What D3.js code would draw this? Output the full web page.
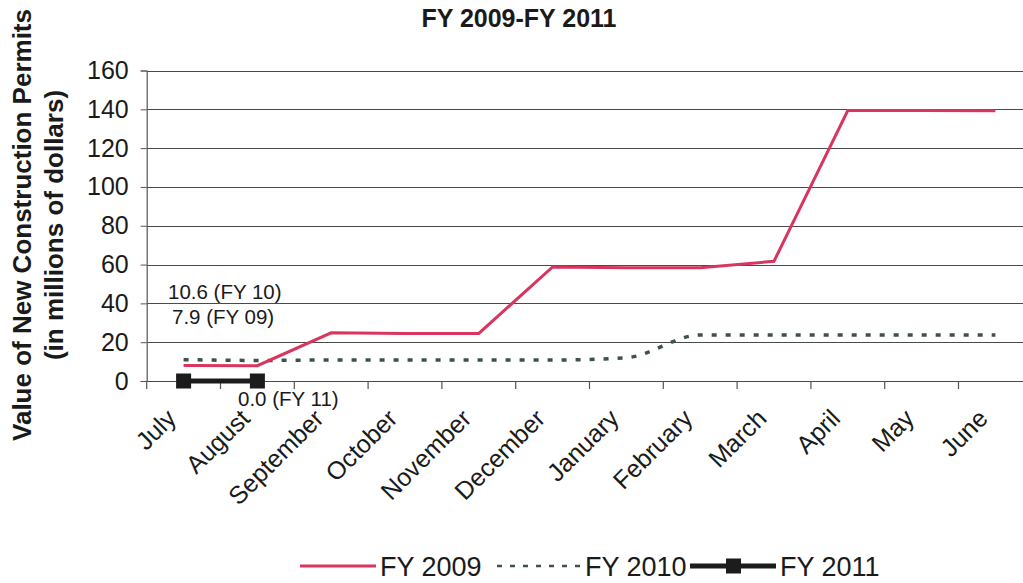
<!DOCTYPE html>
<html>
<head>
<meta charset="utf-8">
<script src="https://cdn.jsdelivr.net/npm/d3@7"></script>
<style>
  html, body { margin: 0; padding: 0; background: #fff; }
  svg { display: block; font-family: "Liberation Sans", Arial, sans-serif; }
</style>
</head>
<body>
<svg id="chart" width="1023" height="583"></svg>
<script>
// Fiscal-year months
const months = ["July", "August", "September", "October", "November", "December",
                "January", "February", "March", "April", "May", "June"];

// Cumulative value of new construction permits, millions of dollars
const fy2009 = [8.0, 7.9, 24.8, 24.5, 24.5, 58.8, 58.3, 58.3, 61.7, 139.4, 139.4, 139.2];
const fy2010 = [11.0, 10.6, 10.8, 10.8, 10.8, 10.8, 12.0, 23.7, 23.7, 23.7, 23.7, 23.7];
const fy2011 = [0.0, 0.0];

const yTicks = [0, 20, 40, 60, 80, 100, 120, 140, 160];

const seriesNames = ["FY 2009", "FY 2010", "FY 2011"];
const notes = [
  { text: "10.6 (FY 10)" },
  { text: "7.9 (FY 09)" },
  { text: "0.0 (FY 11)" }
];

const svg = d3.select("#chart");

const left = 146.7, bandW = 73.8;
const x = d3.scaleBand().domain(months).range([left, left + bandW * months.length]).padding(0);
const y = d3.scaleLinear().domain([0, 160]).range([381, 70.5]);
const cx = m => x(m) + x.bandwidth() / 2;

// horizontal gridlines
svg.append("g").selectAll("line").data(yTicks).join("line")
  .attr("x1", left).attr("x2", 1023)
  .attr("y1", d => Math.round(y(d)) + 0.5).attr("y2", d => Math.round(y(d)) + 0.5)
  .attr("stroke", "#4a4a4a").attr("stroke-width", 1.2);

// y axis
const yAxis = d3.axisLeft(y).tickValues(yTicks).tickSize(6).tickPadding(12);
const gy = svg.append("g").attr("transform", `translate(${left},0)`).call(yAxis);
gy.select(".domain").attr("stroke", "#555").attr("stroke-width", 1.2);
gy.selectAll(".tick line").attr("stroke", "#555");
gy.selectAll(".tick text").attr("font-size", 25).attr("fill", "#1a1a1a")
  .attr("font-family", "Liberation Sans, Arial, sans-serif");

// x axis: boundary ticks between months
const edges = months.map(m => x(m)).concat([x.range()[1]]);
svg.append("g").selectAll("line").data(edges).join("line")
  .attr("x1", d => d).attr("x2", d => d)
  .attr("y1", y(0)).attr("y2", y(0) + 8)
  .attr("stroke", "#555").attr("stroke-width", 1.2);

// month labels, rotated
svg.append("g").selectAll("text").data(months).join("text")
  .attr("transform", d => `translate(${cx(d) - 6},${y(0) + 39}) rotate(-45)`)
  .attr("text-anchor", "end")
  .attr("font-size", 25).attr("fill", "#1a1a1a")
  .text(d => d);

// series lines
const line = d3.line().x((d, i) => cx(months[i])).y(d => y(d));

svg.append("path").datum(fy2010)
  .attr("d", line.curve(d3.curveMonotoneX))
  .attr("fill", "none").attr("stroke", "#3e5247")
  .attr("stroke-width", 3.5).attr("stroke-dasharray", "5,9");

svg.append("path").datum(fy2009)
  .attr("d", line.curve(d3.curveLinear))
  .attr("fill", "none").attr("stroke", "#d8365f").attr("stroke-width", 3);

svg.append("path").datum(fy2011)
  .attr("d", line.curve(d3.curveLinear))
  .attr("fill", "none").attr("stroke", "#1c1c1c").attr("stroke-width", 5);

svg.append("g").selectAll("rect").data(fy2011).join("rect")
  .attr("x", (d, i) => cx(months[i]) - 7.5).attr("y", d => y(d) - 7.5)
  .attr("width", 15).attr("height", 15).attr("fill", "#1c1c1c");

// value notes
const noteG = svg.append("g").attr("font-size", 20.5).attr("fill", "#1a1a1a");
noteG.append("text").attr("x", 168).attr("y", 299).text(notes[0].text);
noteG.append("text").attr("x", 172).attr("y", 324).text(notes[1].text);
noteG.append("text").attr("x", 238).attr("y", 406).text(notes[2].text);

// title
svg.append("text").attr("x", 519).attr("y", 27).attr("text-anchor", "middle")
  .attr("font-size", 25).attr("font-weight", "bold").attr("fill", "#1a1a1a")
  .text("FY 2009-FY 2011");

// y axis title
const yt = svg.append("g").attr("font-weight", "bold").attr("font-size", 26)
  .attr("fill", "#1a1a1a").attr("text-anchor", "middle");
yt.append("text").attr("transform", "translate(31,225) rotate(-90)")
  .text("Value of New Construction Permits");
yt.append("text").attr("transform", "translate(63,225) rotate(-90)")
  .text("(in millions of dollars)");

// legend
const lg = svg.append("g");
const ly = 566;
lg.append("line").attr("x1", 300).attr("x2", 376).attr("y1", ly).attr("y2", ly)
  .attr("stroke", "#d8365f").attr("stroke-width", 3);
lg.append("line").attr("x1", 497).attr("x2", 580).attr("y1", ly).attr("y2", ly)
  .attr("stroke", "#3e5247").attr("stroke-width", 2.5).attr("stroke-dasharray", "5,8");
lg.append("line").attr("x1", 690).attr("x2", 776).attr("y1", ly).attr("y2", ly)
  .attr("stroke", "#1c1c1c").attr("stroke-width", 5);
lg.append("rect").attr("x", 726).attr("y", ly - 7.5).attr("width", 15).attr("height", 15)
  .attr("fill", "#1c1c1c");
const legendX = [380, 585, 780];
lg.selectAll("text").data(seriesNames).join("text")
  .attr("x", (d, i) => legendX[i]).attr("y", ly + 10)
  .attr("font-size", 27).attr("fill", "#1a1a1a").text(d => d);
</script>
</body>
</html>
